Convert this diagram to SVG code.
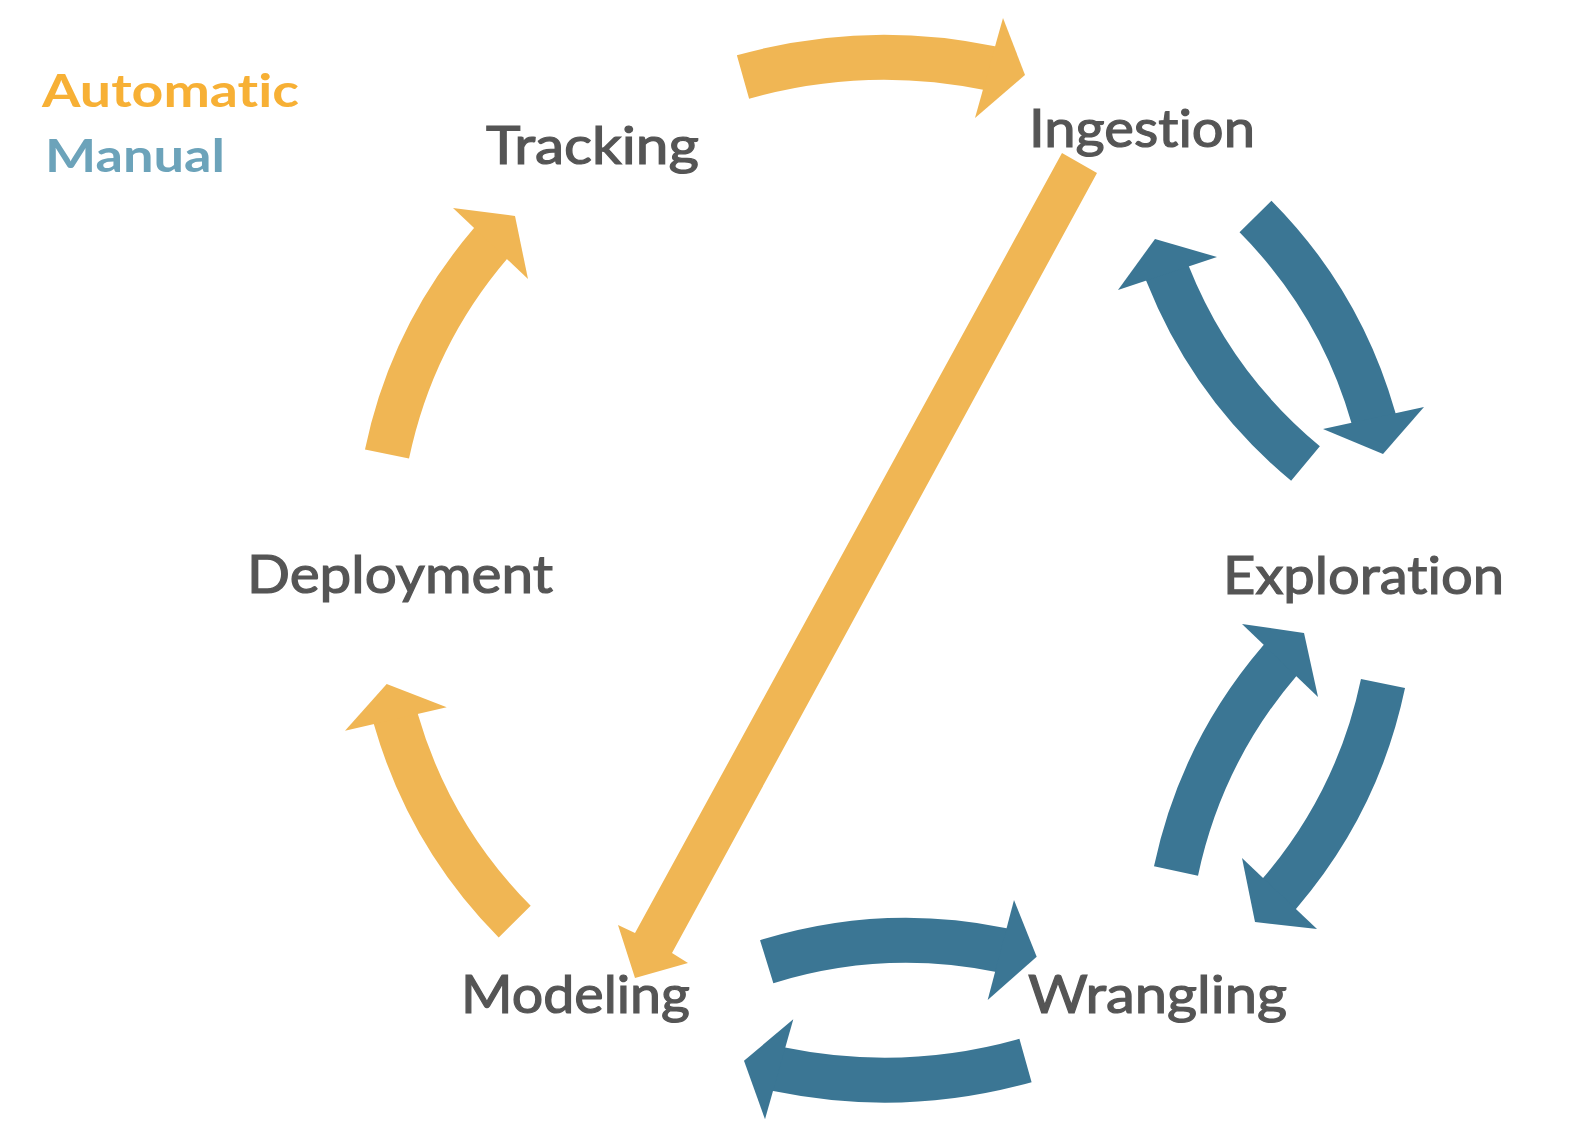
<svg xmlns="http://www.w3.org/2000/svg" width="1570" height="1142" viewBox="0 0 1570 1142">
<style>
.lbl{font-family:"Lato","Open Sans","Liberation Sans",sans-serif;font-size:52px;font-weight:400;fill:#555555;stroke:#555555;stroke-width:1.2px;font-variant-ligatures:none;font-feature-settings:"liga" 0,"dlig" 0}
.leg{font-family:"Lato","Open Sans","Liberation Sans",sans-serif;font-size:46px;font-weight:700;font-variant-ligatures:none;font-feature-settings:"liga" 0,"dlig" 0}
.so{fill:none;stroke:#F0B654;stroke-width:45;stroke-linecap:butt;stroke-linejoin:miter}
.sb{fill:none;stroke:#3B7694;stroke-width:45;stroke-linecap:butt;stroke-linejoin:miter}
.ho{fill:#F0B654}
.hb{fill:#3B7694}
</style>
<rect width="1570" height="1142" fill="#ffffff"/>
<g id="legend">
<text class="leg" x="42" y="107" fill="#F7B035" textLength="257" lengthAdjust="spacingAndGlyphs">Automatic</text>
<text class="leg" x="45" y="172" fill="#6CA3BA" textLength="180" lengthAdjust="spacingAndGlyphs">Manual</text>
</g>
<g id="connectors">
<g id="tracking-ingestion"><path class="so" d="M743,77 Q865,42.5 989,68 L995,69.2"/><polygon class="ho" points="1003,18 1025,75 975,118"/></g>
<g id="ingestion-exploration"><path class="sb" d="M1255.5,216.5 Q1340.4,302 1373.5,418 L1375.1,423.8"/><polygon class="hb" points="1323,429 1383,454 1424,407"/></g>
<g id="exploration-ingestion"><path class="sb" d="M1305.5,463.5 Q1212.2,386.1 1167.5,273.5 L1165.3,267.9"/><polygon class="hb" points="1118,290 1155,239 1217,257"/></g>
<g id="exploration-wrangling"><path class="sb" d="M1383,683.5 Q1358.2,801.8 1279.5,893.5 L1275.6,898.1"/><polygon class="hb" points="1242,858 1255,922 1317,929"/></g>
<g id="wrangling-exploration"><path class="sb" d="M1176,871 Q1201.1,752.5 1280,660.5 L1283.9,656"/><polygon class="hb" points="1242,624 1304,633 1318,697"/></g>
<g id="modeling-wrangling"><path class="sb" d="M766.7,961.7 Q882.25,925.9 1000.8,950 L1006.7,951.2"/><polygon class="hb" points="1014,900 1036.7,956.7 987.7,1000"/></g>
<g id="wrangling-modeling"><path class="sb" d="M1025.5,1060.5 Q903.4,1094.9 779.2,1069.3 L773.3,1068.1"/><polygon class="hb" points="793.3,1019.3 744,1060.7 765,1119.3"/></g>
<g id="modeling-deployment"><path class="so" d="M514.7,921.7 Q429.4,835.5 395.8,719 L394.1,713.2"/><polygon class="ho" points="345,730.7 386.7,684 446.7,707.3"/></g>
<g id="deployment-tracking"><path class="so" d="M387,454 Q411.8,335.5 490.5,243.5 L494.4,239"/><polygon class="ho" points="453,208 515,216 528,279"/></g>
<g id="ingestion-modeling"><polygon class="ho" points="1062,153 1097,173 672,953 688,963 635,978 618,925 635,933"/></g>
</g>
<g id="tracking"><text class="lbl" x="486" y="164" textLength="213" lengthAdjust="spacingAndGlyphs">Tracking</text></g>
<g id="ingestion"><text class="lbl" x="1029" y="147" textLength="226" lengthAdjust="spacingAndGlyphs">Ingestion</text></g>
<g id="deployment"><text class="lbl" x="247" y="593" textLength="306" lengthAdjust="spacingAndGlyphs">Deployment</text></g>
<g id="exploration"><text class="lbl" x="1223" y="594" textLength="281" lengthAdjust="spacingAndGlyphs">Exploration</text></g>
<g id="modeling"><text class="lbl" x="461" y="1013" textLength="229" lengthAdjust="spacingAndGlyphs">Modeling</text></g>
<g id="wrangling"><text class="lbl" x="1028" y="1013" textLength="259" lengthAdjust="spacingAndGlyphs">Wrangling</text></g>
</svg>
